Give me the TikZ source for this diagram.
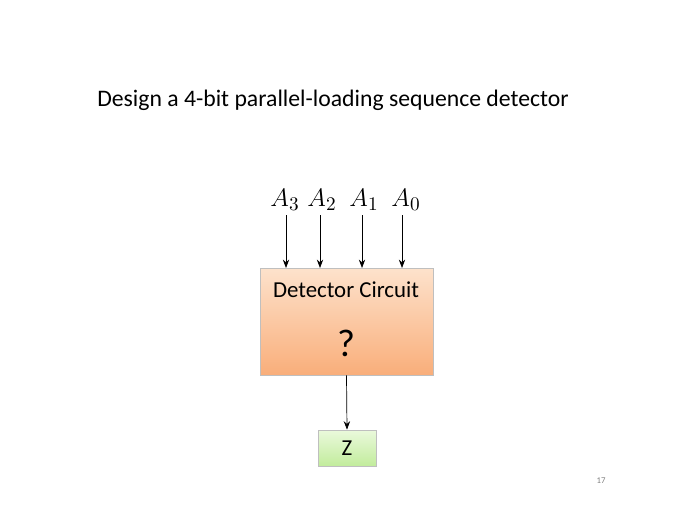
\documentclass[tikz,border=0pt]{standalone}
\usepackage{fontspec}
\setmainfont{Carlito}
\usetikzlibrary{arrows.meta,shadings}
\definecolor{orangetop}{HTML}{FDE2CC}
\definecolor{orangebot}{HTML}{F9AE7A}
\definecolor{greentop}{HTML}{EAF9DC}
\definecolor{greenbot}{HTML}{C2EC9C}
\begin{document}
\begin{tikzpicture}
[x=0.02cm,y=-0.02cm,>=Stealth,
 block/.style={draw=black!25,inner sep=0pt},
 input/.style={font=\fontsize{15}{17}\selectfont,inner sep=0pt},]

\useasboundingbox (0,0) rectangle (700,510);

%Title
\node (title) at (333,100) {\fontsize{13.5}{16}\selectfont Design a 4-bit parallel-loading sequence detector};

%Detector block
\node (det) [block,top color=orangetop,bottom color=orangebot,minimum width=3.46cm,minimum height=2.14cm] at (346.5,321.5) {};
\node (detname) at (346,290) {\fontsize{13}{15}\selectfont Detector Circuit};
\node (q) at (346,343) {\fontsize{22}{26}\selectfont ?};

%Output block
\node (Z) [block,top color=greentop,bottom color=greenbot,minimum width=1.16cm,minimum height=0.72cm] at (347,448) {\fontsize{13}{15}\selectfont Z};

%Inputs
\node (A3) [input] at (285,200) {$A_3$};
\node (A2) [input] at (322,200) {$A_2$};
\node (A1) [input] at (364,200) {$A_1$};
\node (A0) [input] at (406,200) {$A_0$};
\foreach \n/\x in {A3/286,A2/320,A1/362,A0/402}
  \draw[->] (\x,215) -- (\x,268);

%Output connection
\draw[->] (det.south) -- (Z.north);

%Page number
\node (page) at (601,481) {\fontsize{5}{6}\selectfont\color{black!50}17};

\end{tikzpicture}
\end{document}
